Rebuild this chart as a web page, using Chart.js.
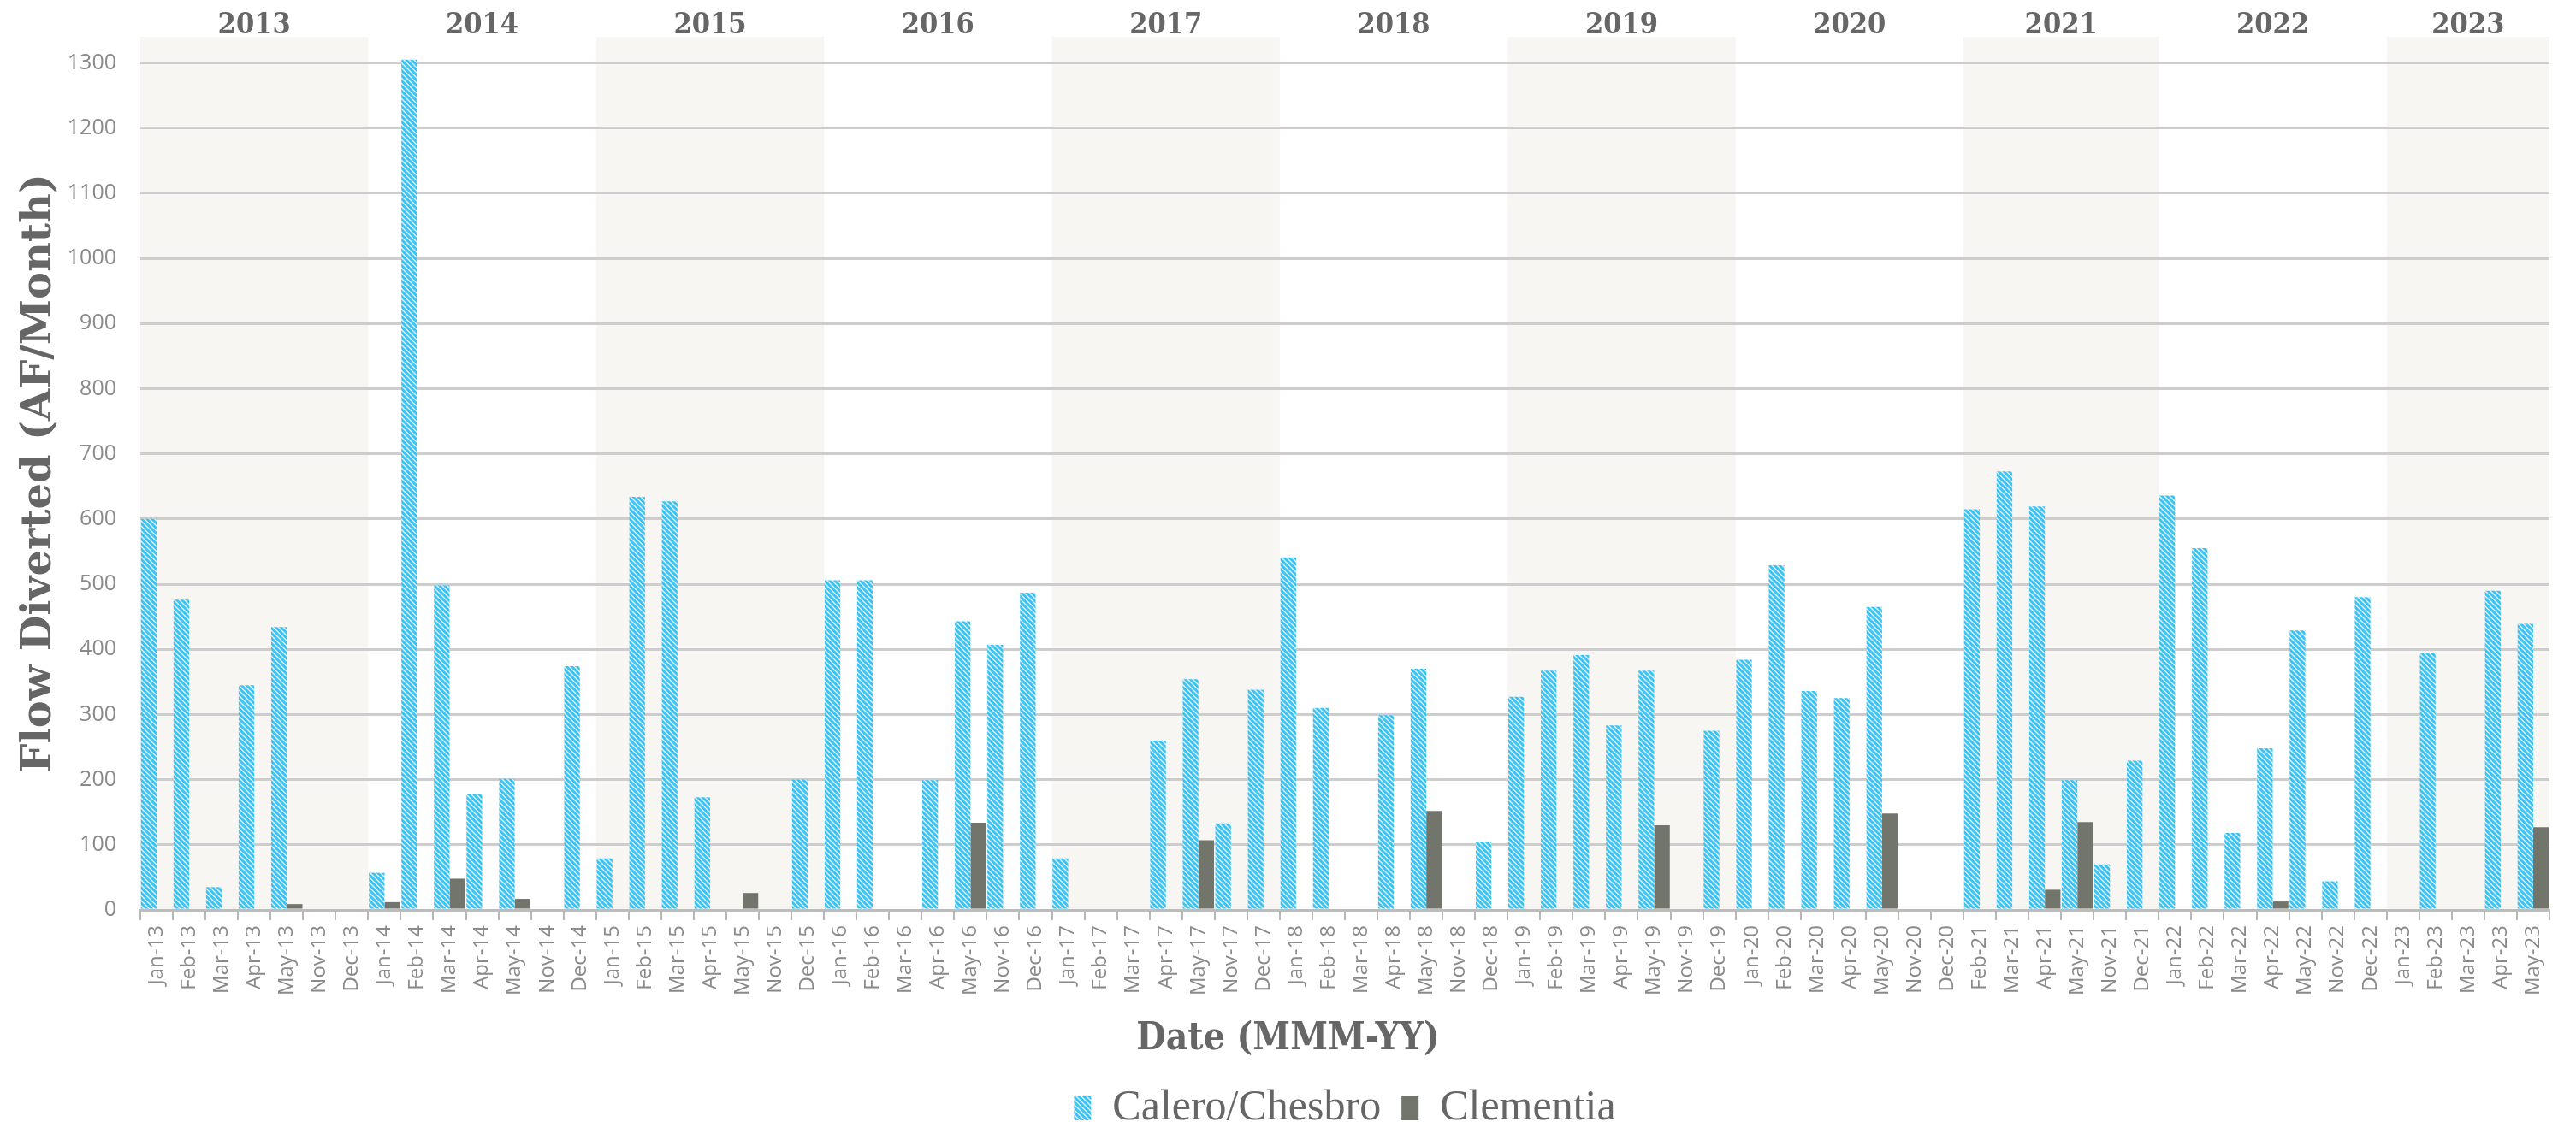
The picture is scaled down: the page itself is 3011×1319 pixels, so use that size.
<!DOCTYPE html>
<html>
<head>
<meta charset="utf-8">
<script src="https://cdn.jsdelivr.net/npm/chart.js@4/dist/chart.umd.min.js"></script>
<style>
  html, body { margin: 0; padding: 0; background: #ffffff; }
  #wrap { width: 3011px; height: 1319px; }
</style>
</head>
<body>
<div id="wrap"><canvas id="flowChart" width="3011" height="1319"></canvas></div>
<script>
// Categories (only the diversion months are shown)
var categories = [
    "Jan-13", "Feb-13", "Mar-13", "Apr-13", "May-13", "Nov-13", "Dec-13",
    "Jan-14", "Feb-14", "Mar-14", "Apr-14", "May-14", "Nov-14", "Dec-14",
    "Jan-15", "Feb-15", "Mar-15", "Apr-15", "May-15", "Nov-15", "Dec-15",
    "Jan-16", "Feb-16", "Mar-16", "Apr-16", "May-16", "Nov-16", "Dec-16",
    "Jan-17", "Feb-17", "Mar-17", "Apr-17", "May-17", "Nov-17", "Dec-17",
    "Jan-18", "Feb-18", "Mar-18", "Apr-18", "May-18", "Nov-18", "Dec-18",
    "Jan-19", "Feb-19", "Mar-19", "Apr-19", "May-19", "Nov-19", "Dec-19",
    "Jan-20", "Feb-20", "Mar-20", "Apr-20", "May-20", "Nov-20", "Dec-20",
    "Feb-21", "Mar-21", "Apr-21", "May-21", "Nov-21", "Dec-21",
    "Jan-22", "Feb-22", "Mar-22", "Apr-22", "May-22", "Nov-22", "Dec-22",
    "Jan-23", "Feb-23", "Mar-23", "Apr-23", "May-23"
];

// Calero/Chesbro flow diverted (AF/Month)
var caleroChesbro = [
    600, 476, 35, 345, 434, null, null,
    57, 1305, 498, 178, 201, null, 374,
    79, 634, 627, 173, null, null, 200,
    506, 506, 2, 199, 443, 407, 487,
    79, null, null, 260, 354, 133, 338,
    541, 310, null, 299, 370, null, 105,
    327, 367, 391, 283, 367, null, 275,
    384, 529, 336, 325, 465, null, null,
    615, 673, 619, 199, 70, 229,
    636, 555, 118, 248, 429, 44, 480,
    null, 395, null, 490, 439
];

// Clementia flow diverted (AF/Month)
var clementia = [
    null, null, null, null, 9, null, null,
    12, 2, 48, null, 17, null, null,
    null, null, null, null, 26, null, null,
    null, null, null, null, 134, null, null,
    null, null, null, null, 107, null, null,
    null, null, null, null, 152, null, null,
    null, null, null, null, 130, null, null,
    null, null, null, null, 148, null, null,
    null, null, 31, 135, null, null,
    null, null, null, 13, null, null, null,
    null, null, null, null, 127
];

var yTicks = [0, 100, 200, 300, 400, 500, 600, 700, 800, 900, 1000, 1100, 1200, 1300];

// diagonal hatch like the original blue bars
function makeHatch(color) {
    var c = document.createElement("canvas");
    c.width = 6;
    c.height = 6;
    var g = c.getContext("2d");
    g.fillStyle = color;
    g.fillRect(0, 0, 6, 6);
    g.strokeStyle = "rgba(255,255,255,0.8)";
    g.lineWidth = 1.4;
    g.beginPath();
    [-6, 0, 6].forEach(function (k) {
        g.moveTo(-1, -1 + k);
        g.lineTo(7, 7 + k);
    });
    g.stroke();
    return g.createPattern(c, "repeat");
}

// shaded year bands + year labels on top, x title centred on the page
var yearBands = {
    id: "yearBands",
    beforeDraw: function (chart) {
        var xs = chart.scales.x, area = chart.chartArea, ctx = chart.ctx;
        var half = (xs.getPixelForValue(1) - xs.getPixelForValue(0)) / 2;
        var groups = [];
        categories.forEach(function (c, i) {
            var yr = "20" + c.slice(-2);
            var last = groups[groups.length - 1];
            if (!last || last.year !== yr) groups.push({ year: yr, first: i, last: i });
            else last.last = i;
        });
        ctx.save();
        groups.forEach(function (g, n) {
            var x0 = xs.getPixelForValue(g.first) - half;
            var x1 = xs.getPixelForValue(g.last) + half;
            if (n % 2 === 0) {
                ctx.fillStyle = "#f8f6f3";
                ctx.fillRect(x0, area.top, x1 - x0, area.bottom - area.top);
            }
            ctx.fillStyle = "#666666";
            ctx.font = "bold 34px 'DejaVu Serif Condensed', 'Liberation Serif', serif";
            ctx.textAlign = "center";
            ctx.textBaseline = "middle";
            ctx.fillText(g.year, (x0 + x1) / 2, 30);
        });
        ctx.restore();
    },
    afterDraw: function (chart) {
        var ctx = chart.ctx;
        ctx.save();
        ctx.fillStyle = "#666666";
        ctx.font = "bold 44px 'DejaVu Serif Condensed', 'Liberation Serif', serif";
        ctx.textAlign = "center";
        ctx.textBaseline = "middle";
        ctx.fillText("Date (MMM-YY)", chart.width / 2, 1216);
        ctx.restore();
    }
};

document.addEventListener("DOMContentLoaded", function () {
    var canvas = document.getElementById("flowChart");
    var flowChart = new Chart(canvas, {
        type: "bar",
        data: {
            labels: categories,
            datasets: [{
                label: "Calero/Chesbro",
                data: caleroChesbro,
                backgroundColor: makeHatch("#3dc1ee"),
                borderWidth: 0
            }, {
                label: "Clementia",
                data: clementia,
                backgroundColor: "#72756b",
                borderWidth: 0
            }]
        },
        options: {
            responsive: false,
            animation: false,
            devicePixelRatio: 1,
            categoryPercentage: 0.96,
            barPercentage: 1.0,
            layout: {
                padding: { top: 43, right: 31, left: 0, bottom: -12 }
            },
            plugins: {
                tooltip: { enabled: false },
                legend: {
                    position: "bottom",
                    fullSize: false,
                    labels: {
                        boxWidth: 20,
                        boxHeight: 28,
                        padding: 24,
                        color: "#666666",
                        font: { family: "'Liberation Serif', serif", size: 50 }
                    }
                }
            },
            scales: {
                x: {
                    grid: {
                        offset: true,
                        drawOnChartArea: false,
                        drawTicks: true,
                        tickLength: 12,
                        color: "#b8b8b8",
                        lineWidth: 2
                    },
                    border: { color: "#bcbcbc", width: 3 },
                    ticks: {
                        autoSkip: false,
                        maxRotation: 90,
                        minRotation: 90,
                        padding: 6,
                        color: "#8a8a8a",
                        font: { family: "'Open Sans', sans-serif", size: 24 }
                    },
                    afterFit: function (scale) { scale.height = 183; }
                },
                y: {
                    min: 0,
                    max: 1340,
                    afterBuildTicks: function (scale) {
                        scale.ticks = yTicks.map(function (v) { return { value: v }; });
                    },
                    grid: { color: "#cdcdcd", lineWidth: 3, drawTicks: false },
                    border: { display: false },
                    ticks: {
                        padding: 28,
                        color: "#8a8a8a",
                        font: { family: "'Open Sans', sans-serif", size: 25 },
                        callback: function (value) { return String(value); }
                    },
                    title: {
                        display: true,
                        text: "Flow Diverted (AF/Month)",
                        color: "#666666",
                        padding: { top: 18, bottom: 0 },
                        font: { family: "'DejaVu Serif', serif", size: 48, weight: "bold" }
                    },
                    afterFit: function (scale) { scale.width = 164; }
                }
            }
        },
        plugins: [yearBands]
    });
});
</script>
</body>
</html>
